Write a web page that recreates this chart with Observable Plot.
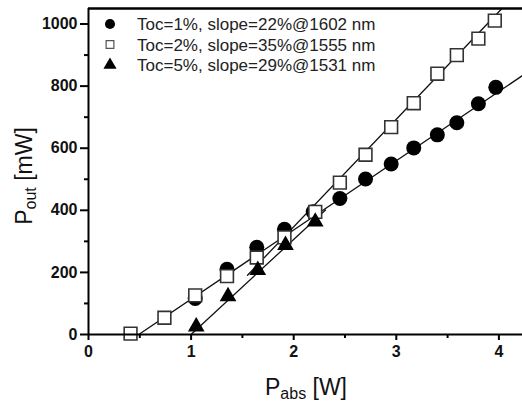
<!DOCTYPE html>
<html><head><meta charset="utf-8">
<script src="https://cdn.jsdelivr.net/npm/d3@7"></script>
<script src="https://cdn.jsdelivr.net/npm/@observablehq/plot@0.6"></script>
<style>
body{margin:0;background:#fff}
svg{font-family:"Liberation Sans",Arial,sans-serif;background:#fff}
.tk text{font-weight:bold;font-size:16px;fill:#111}
</style>
</head><body><div id="chart"></div>
<script>
// Toc = 1 % (filled circles)
const pabs1 = [1.04, 1.35, 1.64, 1.91, 2.19, 2.45, 2.70, 2.95, 3.17, 3.40, 3.59, 3.80, 3.97];
const pout1 = [116, 210, 281, 339, 395, 438, 501, 549, 601, 643, 682, 743, 796];
// Toc = 2 % (open squares)
const pabs2 = [0.41, 0.74, 1.04, 1.35, 1.64, 1.91, 2.21, 2.45, 2.70, 2.95, 3.17, 3.40, 3.59, 3.80, 3.96];
const pout2 = [3, 54, 126, 188, 248, 313, 395, 489, 579, 668, 745, 840, 900, 953, 1011];
// Toc = 5 % (filled triangles)
const pabs5 = [1.05, 1.36, 1.65, 1.92, 2.21];
const pout5 = [25, 123, 207, 288, 363];

// linear fits (end points)
const fitNames = ["fit1", "fit1", "fit2", "fit2", "fit5", "fit5"];
const fitX = [0.49, 4.23, 1.55, 4.03, 1.00, 2.31];
const fitY = [0, 834, 191, 1050, 0, 401];

const legendLabels = ["Toc=1%, slope=22%@1602 nm", "Toc=2%, slope=35%@1555 nm", "Toc=5%, slope=29%@1531 nm"];
const legendSymbols = ["circle", "square", "triangle"];

const xMajor = [0, 1, 2, 3, 4];
const xMinor = [0.5, 1.5, 2.5, 3.5];
const yMajor = [0, 200, 400, 600, 800, 1000];
const yMinor = [100, 300, 500, 700, 900];

const zip = (xs, ys) => xs.map((x, i) => ({x, y: ys[i]}));
const circles = zip(pabs1, pout1);
const squares = zip(pabs2, pout2);
const tris = zip(pabs5, pout5);
const fits = fitX.map((x, i) => ({x, y: fitY[i], s: fitNames[i]}));

const plot = Plot.plot({
  width: 522, height: 403,
  marginLeft: 88, marginRight: 0, marginTop: 8, marginBottom: 69,
  x: {domain: [0, 4.23]},
  y: {domain: [0, 1050]},
  marks: [
    Plot.line(fits, {x: "x", y: "y", z: "s", stroke: "#111", strokeWidth: 1.3}),
    Plot.dot(circles, {x: "x", y: "y", symbol: "circle", r: 7.5, fill: "#000", stroke: "none"}),
    Plot.dot(squares, {x: "x", y: "y", symbol: "square", r: 7.2, fill: "#fff", stroke: "#333", strokeWidth: 1.6}),
    Plot.dot(tris, {x: "x", y: "y", symbol: "triangle", r: 6.2, fill: "#000", stroke: "none"}),
    Plot.ruleY([0], {stroke: "#000", strokeWidth: 2}),
    Plot.ruleY([1050], {stroke: "#000", strokeWidth: 2.5}),
    Plot.ruleX([0], {stroke: "#000", strokeWidth: 2}),
    Plot.axisX(xMajor, {className: "tk", tickSize: 6, tickPadding: 5, strokeWidth: 2, label: null, tickFormat: d => String(d)}),
    Plot.axisX(xMinor, {tickSize: 4, strokeWidth: 2, label: null, tickFormat: () => ""}),
    Plot.axisY(yMajor, {className: "tk", tickSize: 8, tickPadding: 3, strokeWidth: 2, label: null, tickFormat: d => String(d)}),
    Plot.axisY(yMinor, {tickSize: 4, strokeWidth: 2, label: null, tickFormat: () => ""})
  ]
});
document.getElementById("chart").append(plot);

const svg = d3.select(plot);
// axis titles with subscripts
const xl = svg.append("text").attr("x", 306).attr("y", 395).attr("text-anchor", "middle")
  .attr("fill", "#111").style("font-size", "23px");
xl.append("tspan").text("P");
xl.append("tspan").attr("dy", 4).style("font-size", "16px").text("abs");
xl.append("tspan").attr("dy", -4).text(" [W]");

const yl = svg.append("text").attr("transform", "translate(32,176) rotate(-90)").attr("text-anchor", "middle")
  .attr("fill", "#111").style("font-size", "23px");
yl.append("tspan").text("P");
yl.append("tspan").attr("dy", 4).style("font-size", "16px").text("out");
yl.append("tspan").attr("dy", -4).text(" [mW]");

// legend
const sym = {circle: d3.symbolCircle, square: d3.symbolSquare, triangle: d3.symbolTriangle};
const sizes = {circle: 80, square: 60, triangle: 75};
legendLabels.forEach((lab, i) => {
  const cy = 24 + i * 20.5;
  const s = legendSymbols[i];
  svg.append("path").attr("transform", `translate(110,${cy})`)
    .attr("d", d3.symbol(sym[s], sizes[s])())
    .attr("fill", s === "square" ? "#fff" : "#000")
    .attr("stroke", s === "square" ? "#555" : "none").attr("stroke-width", 1.2);
  svg.append("text").attr("x", 137).attr("y", cy + 6).attr("text-anchor", "start").attr("fill", "#222")
    .style("font-size", "17px").text(lab);
});
</script>
</body></html>
